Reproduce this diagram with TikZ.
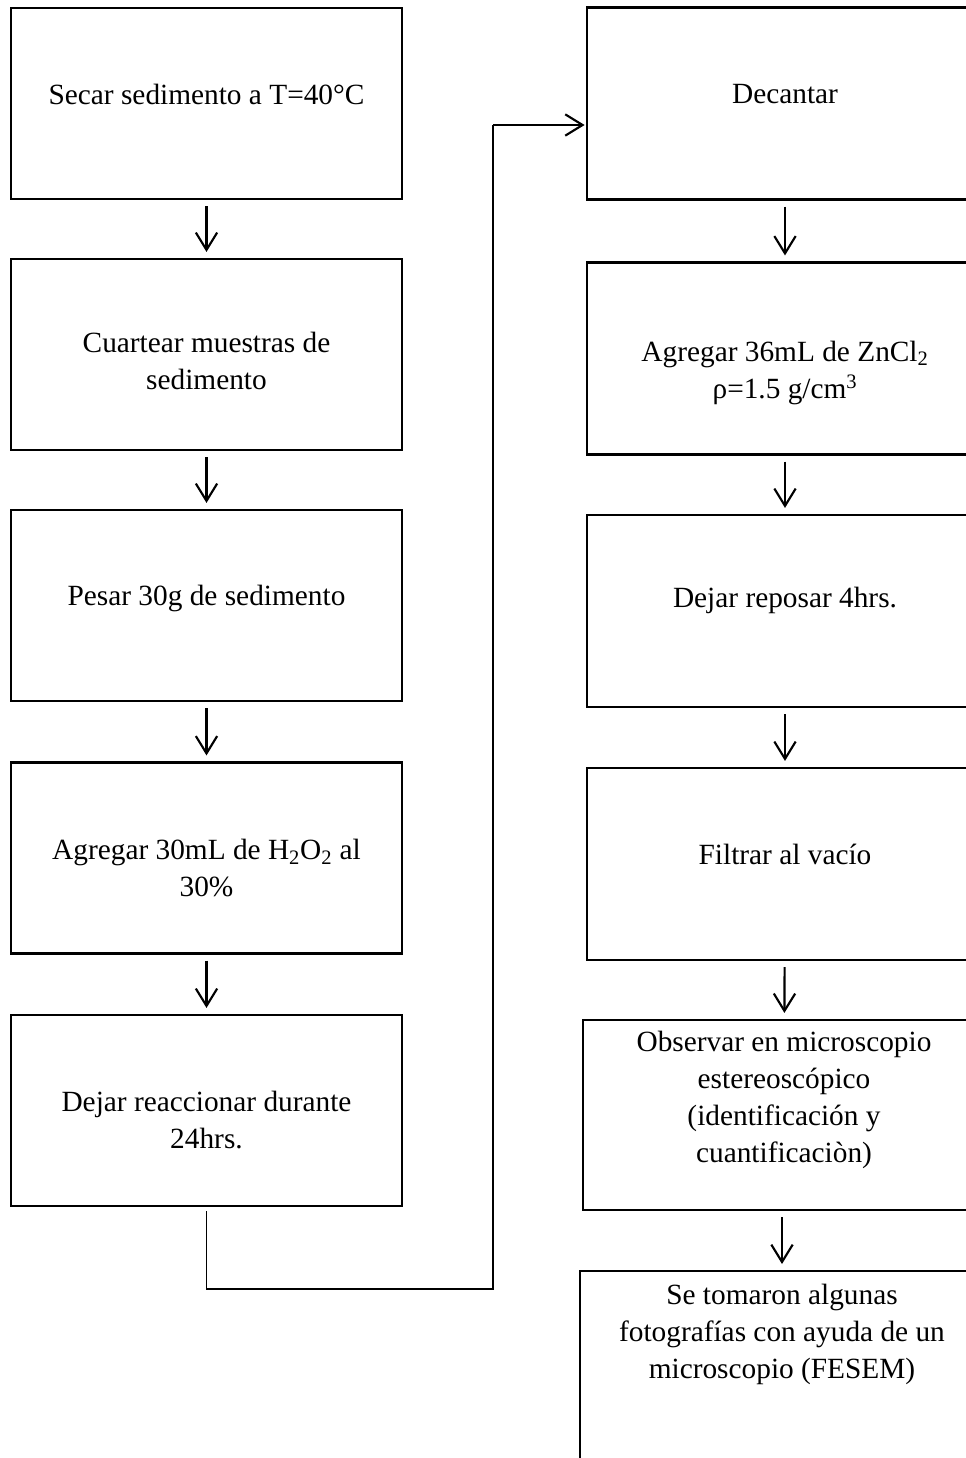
\documentclass[tikz,border=0pt]{standalone}
\usepackage{fontspec}
\setmainfont{Liberation Serif}
\usetikzlibrary{arrows.meta,positioning}

% altura extra de la primera linea / profundidad extra de la ultima
\newcommand{\bajar}[1]{\rule{0pt}{#1}}
\newcommand{\subir}[1]{\rule[-#1]{0pt}{#1}}

\tikzset{
  stepbox/.style={draw,line width=1.6pt,rectangle,align=center,
    font=\fontsize{22}{27.75}\selectfont,inner sep=0pt},
  leftbox/.style={stepbox,minimum width=293.25pt,minimum height=143.25pt},
  rightbox/.style={stepbox,minimum width=297pt,minimum height=144pt},
  flecha/.style={line width=1.6pt,-{Straight Barb[length=13pt,width=16pt,line width=1.6pt]},
    shorten <=4.5pt,shorten >=4.5pt},
  liga/.style={line width=0.8pt}
}

\begin{document}
\begin{tikzpicture}[x=0.75pt,y=-0.75pt]
  \useasboundingbox (0,0) rectangle (966,1458);
  \clip (0,0) rectangle (966,1458);

  % columna izquierda
  \node[leftbox] (secar) at (206.5,103.5) {Secar sedimento a T=40°C\subir{14pt}};
  \node[leftbox] (cuartear) at (206.5,354.5) {\bajar{25pt}Cuartear muestras de\\sedimento};
  \node[leftbox] (pesar) at (206.5,605.5) {Pesar 30g de sedimento\subir{15pt}};
  \node[leftbox] (agregarh) at (206.5,858) {\bajar{31pt}Agregar 30mL de H\textsubscript{2}O\textsubscript{2} al\\30\%};
  \node[leftbox] (reaccionar) at (206.5,1110.5) {\bajar{30pt}Dejar reaccionar durante\\24hrs.};

  % columna derecha
  \node[rightbox] (decantar) at (785,103.5) {Decantar\subir{14pt}};
  \node[rightbox] (agregarzn) at (785,358.5) {\bajar{37pt}Agregar 36mL de ZnCl\textsubscript{2}\\ρ=1.5 g/cm\textsuperscript{3}};
  \node[rightbox] (reposar) at (785,611) {Dejar reposar 4hrs.\subir{21pt}};
  \node[rightbox] (filtrar) at (785,864) {Filtrar al vacío\subir{15pt}};
  \node[rightbox,minimum width=301.5pt,minimum height=142.5pt] (observar) at (784,1115)
    {Observar en microscopio\\estereoscópico\\(identificación y\\cuantificaciòn)\subir{27pt}};
  \node[stepbox,anchor=north,minimum width=303pt,inner ysep=10pt,text depth=150pt] (fotos) at (782,1270)
    {Se tomaron algunas\\fotografías con ayuda de un\\microscopio (FESEM)};

  % flechas
  \draw[flecha] (secar) -- (cuartear);
  \draw[flecha] (cuartear) -- (pesar);
  \draw[flecha] (pesar) -- (agregarh);
  \draw[flecha] (agregarh) -- (reaccionar);

  \draw[flecha] (decantar) -- (agregarzn);
  \draw[flecha] (agregarzn) -- (reposar);
  \draw[flecha] (reposar) -- (filtrar);
  \draw[flecha] (filtrar) -- (observar);
  \draw[flecha] (observar.south -| fotos) -- (fotos);

  % conector entre columnas
  \coordinate (abajo) at (493,1289);
  \coordinate (arriba) at (493,125);
  \draw[liga] ([yshift=-3]reaccionar.south) -- (reaccionar.south |- abajo) -- (abajo) -- (arriba);
  \draw[flecha,shorten <=0pt,shorten >=1pt] (arriba) -- (arriba -| decantar.west);
\end{tikzpicture}
\end{document}
